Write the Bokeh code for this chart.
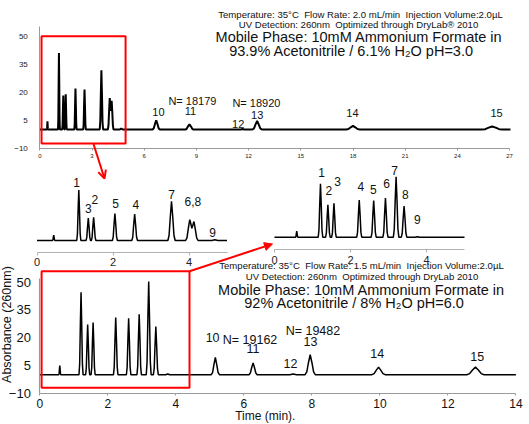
from bokeh.plotting import figure
from bokeh.models import Range1d, LinearAxis, FixedTicker, Arrow, OpenHead, NormalHead
from bokeh.core.properties import value
from bokeh.embed import file_html
from bokeh.resources import INLINE
import math

# ---------------- DATA ----------------
# Upper chromatogram, pH 3.0: time (min) / absorbance (260 nm)
top_time = [0.0,
            0.41, 0.42, 0.43, 0.44, 0.45, 0.46, 0.47,
            1.046, 1.064, 1.082, 1.10, 1.118, 1.136, 1.154,
            1.29, 1.31, 1.33, 1.35, 1.37, 1.39, 1.41,
            1.43, 1.45, 1.47, 1.49, 1.51, 1.53, 1.55,
            1.984, 2.006, 2.028, 2.05, 2.072, 2.094, 2.116,
            2.495, 2.52, 2.545, 2.57, 2.595, 2.62, 2.645,
            3.444, 3.476, 3.508, 3.54, 3.572, 3.604, 3.636,
            3.912, 3.948, 3.984, 4.02, 4.048, 4.075, 4.102, 4.13, 4.166, 4.202, 4.238,
            4.60, 4.68, 4.76,
            5.0,
            6.48, 6.55, 6.62, 6.69, 6.76, 6.83, 6.90,
            8.36, 8.44, 8.52, 8.60, 8.68, 8.76, 8.84,
            11.55, 11.65, 11.75,
            12.22, 12.31, 12.40, 12.49, 12.58, 12.67, 12.76,
            17.61, 17.74, 17.87, 18.0, 18.13, 18.26, 18.39,
            25.4, 25.6, 25.8, 26.0, 26.2, 26.4, 26.6,
            27.05]
top_abs = [0.0,
           0, 0.6, 2.7, 4.4, 2.7, 0.6, 0,
           0, 5.5, 24.9, 41.0, 24.9, 5.5, 0,
           0, 2.5, 11.0, 18.2, 11.0, 2.5, 0,
           0, 2.6, 11.5, 18.9, 11.5, 2.6, 0,
           0, 3.0, 13.4, 22.0, 13.4, 3.0, 0,
           0, 2.9, 13.0, 21.4, 13.0, 2.9, 0,
           0, 4.3, 19.3, 31.8, 19.3, 4.3, 0,
           0, 2.3, 10.2, 16.9, 13.6, 10.0, 12.6, 15.4, 9.3, 2.1, 0,
           0, 0.6, 0,
           0,
           0, 0.7, 3.0, 5.0, 3.0, 0.7, 0,
           0, 0.4, 1.7, 2.8, 1.7, 0.4, 0,
           0, 0.3, 0,
           0, 0.6, 2.8, 4.6, 2.8, 0.6, 0,
           0, 0.3, 1.2, 2.0, 1.2, 0.3, 0,
           0, 0.2, 1.0, 1.6, 1.0, 0.2, 0,
           0.0]

# Lower chromatogram, pH 6.0
bot_time = [0.0,
            0.555, 0.565, 0.575, 0.585, 0.595, 0.605, 0.615,
            1.15, 1.17, 1.19, 1.21, 1.23, 1.25, 1.27,
            1.345, 1.365, 1.385, 1.405, 1.425, 1.445, 1.465,
            1.505, 1.525, 1.545, 1.565, 1.585, 1.605, 1.625,
            2.164, 2.186, 2.208, 2.23, 2.252, 2.274, 2.296,
            2.544, 2.566, 2.588, 2.61, 2.632, 2.654, 2.676,
            2.854, 2.876, 2.898, 2.92, 2.942, 2.964, 2.986,
            3.128, 3.152, 3.176, 3.20, 3.224, 3.248, 3.272,
            3.338, 3.362, 3.386, 3.41, 3.434, 3.458, 3.482,
            3.70, 3.76, 3.82,
            5.0,
            5.04, 5.08, 5.12, 5.16, 5.20, 5.24, 5.28,
            6.15, 6.19, 6.23, 6.27, 6.31, 6.35, 6.39,
            7.35, 7.45, 7.55,
            7.80, 7.85, 7.90, 7.95, 8.00, 8.05, 8.10,
            9.765, 9.83, 9.895, 9.96, 10.025, 10.09, 10.155,
            12.555, 12.64, 12.725, 12.81, 12.895, 12.98, 13.065,
            14.0]
bot_abs = [0.0,
           0, 0.7, 3.0, 5.0, 3.0, 0.7, 0,
           0, 6.0, 27.1, 44.6, 27.1, 6.0, 0,
           0, 3.7, 16.4, 27.1, 16.4, 3.7, 0,
           0, 3.8, 17.1, 28.2, 17.1, 3.8, 0,
           0, 4.2, 18.8, 30.9, 18.8, 4.2, 0,
           0, 4.1, 18.5, 30.5, 18.5, 4.1, 0,
           0, 4.4, 19.8, 32.7, 19.8, 4.4, 0,
           0, 6.8, 30.6, 50.4, 30.6, 6.8, 0,
           0, 3.5, 15.8, 26.0, 15.8, 3.5, 0,
           0, 0.4, 0,
           0,
           0, 1.3, 5.6, 9.3, 5.6, 1.3, 0,
           0, 0.9, 3.9, 6.4, 3.9, 0.9, 0,
           0, 0.4, 0,
           0, 1.5, 6.6, 10.8, 6.6, 1.5, 0,
           0, 0.6, 2.5, 4.1, 2.5, 0.6, 0,
           0, 0.6, 2.5, 4.1, 2.5, 0.6, 0,
           0.0]

inset_end = 5.0  # the insets show 0-5 min

top_xticks = [0, 3, 6, 9, 12, 15, 18, 21, 24, 27]
top_yticks = [-10, 5, 20, 35, 50]
bot_xticks = [0, 2, 4, 6, 8, 10, 12, 14]
bot_yticks = [-10, 5, 20, 35, 50]
inset_xticks = [0, 2, 4]

top_lbl_text = ["10", "N= 18179", "11", "N= 18920", "13", "12", "14", "15"]
top_lbl_time = [6.82, 8.77, 8.66, 12.45, 12.49, 11.40, 17.97, 26.25]
top_lbl_abs = [9.4, 15.3, 10.0, 14.1, 7.7, 3.2, 8.7, 8.7]

left_lbl_text = ["1", "3", "2", "5", "4", "7", "6,8", "9"]
left_lbl_time = [1.04, 1.35, 1.52, 2.07, 2.60, 3.54, 4.10, 4.62]
left_lbl_abs = [46.9, 25.8, 33.1, 29.8, 29.0, 37.2, 32.0, 6.3]

right_lbl_text = ["1", "2", "3", "4", "5", "6", "7", "8", "9"]
right_lbl_time = [1.24, 1.43, 1.66, 2.27, 2.60, 2.95, 3.16, 3.44, 3.76]
right_lbl_abs = [53.9, 38.9, 46.4, 42.3, 39.8, 45.0, 55.6, 35.6, 14.8]

bot_lbl_text = ["10", "N= 19162", "11", "12", "N= 19482", "13", "14", "15"]
bot_lbl_time = [5.08, 6.18, 6.27, 7.37, 8.03, 7.96, 9.92, 12.86]
bot_lbl_abs = [20.1, 19.0, 14.0, 5.9, 23.4, 18.1, 11.6, 10.0]

top_info = ["Temperature: 35°C \u00a0Flow Rate: 2.0 mL/min \u00a0Injection Volume:2.0µL",
            "UV Detection: 260nm \u00a0Optimized through DryLab® 2010",
            "Mobile Phase: 10mM Ammonium Formate in",
            "93.9% Acetonitrile / 6.1% H\u2082O pH=3.0"]
bot_info = ["Temperature: 35°C \u00a0Flow Rate: 1.5 mL/min \u00a0Injection Volume:2.0µL",
            "UV Detection: 260nm \u00a0Optimized through DryLab 2010",
            "Mobile Phase: 10mM Ammonium Formate in",
            "92% Acetonitrile / 8% H\u2082O pH=6.0"]

# zoomed regions (time min, time max, abs min, abs max)
top_zoom_box = [0.1, 4.93, -7.5, 50.0]
bot_zoom_box = [0.05, 4.4, -7.1, 55.9]

# ---------------- LAYOUT ----------------
W, H = 529, 424
FONT = "Liberation Sans"


def xmap(d0, p0, d1, p1):
    s = (p1 - p0) / (d1 - d0)
    return Range1d(start=d0 - p0 / s, end=d0 + (W - p0) / s)


def ymap(v0, p0, v1, p1):
    s = (p0 - p1) / (v1 - v0)
    return Range1d(start=v0 - (H - p0) / s, end=v0 + p0 / s)


p = figure(width=W, height=H, output_backend="svg", toolbar_location=None,
           x_axis_location=None, y_axis_location=None, min_border=0,
           x_range=Range1d(0, W), y_range=Range1d(H, 0))
p.outline_line_color = None
p.grid.visible = False
p.background_fill_color = "white"
p.border_fill_color = "white"

p.extra_x_ranges = {"tx": xmap(0, 39.3, 27, 509.1),
                    "lx": xmap(0, 36.5, 5, 226.5),
                    "rx": xmap(0, 274, 5, 464),
                    "bx": xmap(0, 39.4, 14, 515.4)}
p.extra_y_ranges = {"ty": ymap(50, 35.7, -10, 147.7),
                    "ly": ymap(0, 240, 41, 189.6),
                    "ry": ymap(0, 236.7, 50, 176.7),
                    "by": ymap(50, 281.7, -10, 392.7)}


def add_axis(place, xr, yr, loc, bounds, ticks, size, color="#9a9a9a",
             label_color="#222222", standoff=4, tick_out=2, width=1):
    ax = LinearAxis(x_range_name=xr, y_range_name=yr, fixed_location=loc,
                    bounds=bounds, ticker=FixedTicker(ticks=ticks, minor_ticks=[]))
    ax.axis_line_color = color
    ax.axis_line_width = width
    ax.major_tick_line_color = color
    ax.major_tick_in = 0
    ax.major_tick_out = tick_out
    ax.minor_tick_line_color = None
    ax.major_label_text_font = FONT
    ax.major_label_text_font_size = size
    ax.major_label_text_color = label_color
    ax.major_label_standoff = standoff
    p.add_layout(ax, place)


# axes
add_axis("below", "tx", "ty", -10, (0, 27), top_xticks, "6px", standoff=4, tick_out=2)
add_axis("left", "tx", "ty", 0, (-10, 55), top_yticks, "8px", standoff=12, tick_out=0)
add_axis("below", "lx", "ly", -9.5, (0, 5), inset_xticks, "11px", color="#b0b0b0", standoff=3, tick_out=3)
add_axis("below", "rx", "ry", -10.25, (0, 5), inset_xticks, "11px", color="#b0b0b0", standoff=3, tick_out=3)
add_axis("below", "bx", "by", -10, (0, 14), bot_xticks, "12px", color="#9a9a9a", label_color="#111111", standoff=4, tick_out=2, width=1.2)
add_axis("left", "bx", "by", 0, (-10, 52), bot_yticks, "13px", color="#9a9a9a", label_color="#111111", standoff=9, tick_out=0, width=1.2)

# traces
p.line(top_time, top_abs, x_range_name="tx", y_range_name="ty", line_color="black", line_width=2)
p.line(bot_time, bot_abs, x_range_name="bx", y_range_name="by", line_color="black", line_width=1.5)
lt = [t for t in top_time if t <= inset_end]
la = [a for t, a in zip(top_time, top_abs) if t <= inset_end]
p.line(lt, la, x_range_name="lx", y_range_name="ly", line_color="black", line_width=1.5)
rt = [t for t in bot_time if t <= inset_end]
ra = [a for t, a in zip(bot_time, bot_abs) if t <= inset_end]
p.line(rt, ra, x_range_name="rx", y_range_name="ry", line_color="black", line_width=1.5)

# zoom boxes
p.quad(left=[top_zoom_box[0]], right=[top_zoom_box[1]], bottom=[top_zoom_box[2]], top=[top_zoom_box[3]],
       x_range_name="tx", y_range_name="ty", fill_color=None, line_color="red", line_width=2)
p.quad(left=[bot_zoom_box[0]], right=[bot_zoom_box[1]], bottom=[bot_zoom_box[2]], top=[bot_zoom_box[3]],
       x_range_name="bx", y_range_name="by", fill_color=None, line_color="red", line_width=2)

# arrows linking boxes to insets
p.add_layout(Arrow(x_start=93, y_start=143.5, x_end=104, y_end=178,
                   line_color="red", line_width=2,
                   end=OpenHead(size=8, line_color="red", line_width=2)))
p.add_layout(Arrow(x_start=189, y_start=270.7, x_end=272, y_end=243.5,
                   line_color="red", line_width=2,
                   end=NormalHead(size=8, fill_color="red", line_color="red")))

# peak labels
def labels(xs, ys, txt, xr, yr, size):
    p.text(xs, ys, text=txt, x_range_name=xr, y_range_name=yr,
           text_font=value(FONT), text_font_size=size, text_color="#111111",
           text_align="center", text_baseline="middle")

labels(top_lbl_time, top_lbl_abs, top_lbl_text, "tx", "ty", "11px")
labels(left_lbl_time, left_lbl_abs, left_lbl_text, "lx", "ly", "12px")
labels(right_lbl_time, right_lbl_abs, right_lbl_text, "rx", "ry", "12px")
labels(bot_lbl_time, bot_lbl_abs, bot_lbl_text, "bx", "by", "12.5px")

# condition blocks
p.text([360, 358, 358.5, 351], [13.5, 23.5, 36.5, 50], text=top_info,
       text_font=value(FONT), text_font_size=["9.6px", "9.6px", "14.5px", "14.5px"],
       text_color="#111111", text_align="center", text_baseline="middle")
p.text([361, 361.5, 361, 354], [265, 275.5, 289, 302.5], text=bot_info,
       text_font=value(FONT), text_font_size=["9.6px", "9.6px", "14.5px", "14.5px"],
       text_color="#111111", text_align="center", text_baseline="middle")

# axis titles of lower chart
p.text([6.63], [-22.3], text=["Time (min)."], x_range_name="bx", y_range_name="by",
       text_font=value(FONT), text_font_size="12px", text_color="#111111",
       text_align="center", text_baseline="middle")
p.text([-0.98], [27.1], text=["Absorbance (260nm)"], x_range_name="bx", y_range_name="by",
       angle=math.pi / 2, text_font=value(FONT), text_font_size="12.5px", text_color="#111111",
       text_align="center", text_baseline="middle")

open("out.html", "w").write(file_html(p, INLINE))
